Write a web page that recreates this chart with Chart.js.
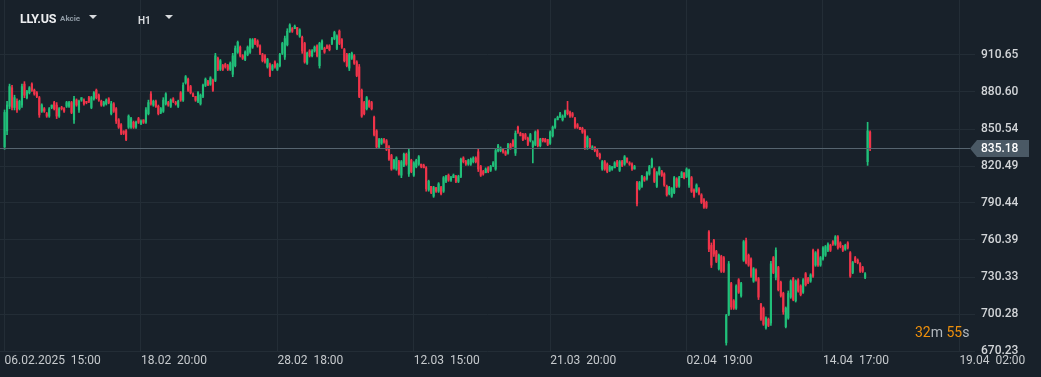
<!DOCTYPE html>
<html>
<head>
<meta charset="utf-8">
<script src="https://cdn.jsdelivr.net/npm/chart.js@4.4.1/dist/chart.umd.min.js"></script>
<style>
  html, body { margin: 0; padding: 0; background: #18212a; }
  #wrap { position: relative; width: 1041px; height: 377px; overflow: hidden; font-family: Roboto, sans-serif; }
  #wrap canvas { display: block; }
  .hdr { position: absolute; white-space: nowrap; line-height: 1; }
  .tri { position: absolute; width: 0; height: 0; border-left: 4px solid transparent; border-right: 4px solid transparent; border-top: 4px solid #d8dbde; }
</style>
</head>
<body>
<div id="wrap">
  <canvas id="chart"></canvas>
  <div class="hdr" style="left:20px;top:12.5px;font-size:12.5px;font-weight:700;color:#eceef0;letter-spacing:-0.3px">LLY.US</div>
  <div class="hdr" style="left:60px;top:15px;font-size:8px;font-weight:700;color:#8e99a3">Akcie</div>
  <div class="tri" style="left:89px;top:15px"></div>
  <div class="hdr" style="left:138px;top:15.5px;font-size:10px;font-weight:700;color:#d6d9dc">H1</div>
  <div class="tri" style="left:165px;top:15px"></div>
  <div class="hdr" style="left:915px;top:325px;font-size:14px;color:#b3b9be"><span style="color:#ee900c">32</span>m <span style="color:#ee900c">55</span>s</div>
</div>
<script>
// LLY.US, H1 candles (one per trading hour)
const opens = [
836,849,869,884,868,873,867,870,887,876,
880,887,882,880,876,865,867,863,861,868,
872,870,861,868,867,869,869,872,858,874,
866,874,874,873,876,868,875,882,878,873,
870,871,875,863,871,867,858,854,849,849,
852,852,856,852,859,855,858,856,863,879,
870,873,869,864,865,871,872,869,875,872,
869,880,874,888,891,885,879,877,873,871,
877,886,889,887,890,890,908,899,902,903,
902,899,895,902,913,917,910,907,911,913,
917,924,922,918,911,910,901,903,899,905,
899,902,912,909,919,930,932,932,933,926,
925,920,904,914,910,914,918,902,916,916,
918,918,920,924,916,930,923,915,911,900,
908,910,905,901,882,872,867,873,872,860,
849,836,839,842,841,836,829,819,818,824,
813,821,830,814,825,813,820,822,822,821,
819,801,804,796,803,800,803,800,808,813,
809,811,812,808,812,827,824,822,822,824,
827,832,820,816,815,819,817,821,818,833,
833,834,832,831,838,841,831,852,847,846,
846,843,841,836,838,849,837,843,842,842,
839,845,852,858,860,858,861,866,864,863,
859,854,852,851,849,836,842,834,836,833,
830,818,824,822,817,818,819,824,817,824,
822,827,823,822,818,807,802,804,811,810,
814,820,818,804,814,816,814,804,798,796,
799,810,804,811,815,812,805,811,801,800,
802,797,793,791,767,756,760,751,737,747,
746,677,700,725,711,705,728,715,744,760,
748,745,727,736,729,708,705,689,696,693,
746,730,738,726,717,690,697,714,729,711,
728,723,718,733,729,727,752,740,752,740,
745,748,752,756,759,757,763,758,755,753,
758,750,734,746,744,741,738,730,824,848
];
const highs = [
866,873,887,886,878,875,874,887,889,882,
885,888,883,881,877,871,868,864,868,870,
873,872,868,869,868,873,873,873,877,875,
874,876,875,873,877,877,881,883,879,874,
873,875,876,873,872,868,859,855,849,850,
862,860,857,857,860,858,858,868,874,881,
874,874,870,868,876,880,873,875,876,873,
874,881,888,894,892,886,880,877,881,879,
887,892,890,893,891,912,909,907,903,904,
903,905,912,918,922,918,911,914,918,924,
924,924,923,919,912,911,908,904,903,906,
904,912,921,926,932,936,933,935,933,932,
926,921,913,915,915,918,919,921,923,917,
919,919,925,930,927,931,924,916,912,912,
913,911,906,903,883,873,877,874,873,861,
850,843,843,843,842,837,830,826,828,825,
825,831,831,834,826,824,826,829,822,822,
820,809,804,804,803,807,804,812,813,814,
812,814,813,813,827,828,825,826,827,828,
828,834,821,817,819,820,821,824,834,838,
836,834,833,839,839,842,849,853,848,847,
847,844,847,841,849,850,843,843,843,842,
849,853,859,861,864,862,866,873,865,864,
860,855,852,852,850,845,843,837,836,834,
831,825,825,823,821,820,824,825,825,825,
829,827,824,823,821,808,808,813,812,816,
821,827,819,816,820,817,815,805,804,803,
812,811,812,816,815,819,818,812,802,806,
803,798,794,792,768,758,761,752,749,748,
747,700,743,726,712,724,729,726,760,762,
749,746,738,737,730,709,706,698,697,743,
747,754,739,727,718,706,719,728,730,728,
729,724,729,734,730,733,753,751,753,747,
755,756,758,757,760,764,764,759,756,757,
759,751,743,747,745,742,739,734,856,849
];
const lows = [
834,846,867,866,866,864,866,868,876,875,
879,881,878,876,860,864,864,860,860,867,
866,859,860,866,864,868,868,863,855,869,
864,873,870,871,872,867,874,875,873,869,
869,870,871,862,864,855,851,846,846,841,
851,851,851,851,855,854,855,855,862,870,
869,868,862,863,864,870,869,868,872,870,
868,873,873,887,881,879,877,873,872,870,
876,885,886,886,881,889,898,898,898,900,
898,898,893,901,912,909,907,906,910,912,
916,919,917,911,905,904,900,893,898,900,
898,901,911,907,918,929,929,932,927,925,
912,904,903,909,909,913,909,900,915,912,
916,914,919,923,915,919,916,905,901,898,
907,903,893,876,860,862,866,868,866,845,
835,835,838,839,833,825,817,818,817,813,
811,820,821,812,815,812,819,821,819,819,
800,800,798,795,799,799,797,799,807,808,
808,811,807,807,811,823,821,821,821,823,
823,816,812,813,815,815,816,820,817,832,
832,831,829,830,834,836,829,847,845,841,
842,837,840,823,837,836,836,840,840,837,
838,844,851,858,860,857,860,862,860,860,
851,851,850,847,834,834,835,834,832,828,
826,817,817,815,816,817,819,820,816,820,
821,823,821,817,818,788,801,803,808,809,
813,819,807,803,813,812,804,796,797,795,
798,803,803,811,810,811,803,799,795,799,
797,790,786,786,751,738,747,742,736,734,
734,675,699,704,704,704,717,714,743,741,
739,730,726,727,712,695,691,688,690,691,
733,728,719,714,700,689,696,713,711,710,
718,715,717,723,725,726,730,739,739,739,
744,747,751,751,756,756,753,754,751,752,
753,730,733,742,741,734,734,729,821,833
];
const closes = [
864,870,885,868,876,866,873,885,878,881,
884,882,879,877,862,870,865,861,867,870,
867,861,867,867,865,872,872,864,875,870,
873,876,871,872,873,876,880,876,874,870,
872,874,872,871,865,857,852,847,847,842,
861,859,852,856,856,857,856,866,872,871,
873,869,863,867,874,879,870,874,873,871,
873,874,886,893,882,880,877,874,880,878,
886,891,886,892,882,910,899,906,899,901,
899,904,910,916,921,910,908,913,917,923,
923,920,918,912,906,905,907,894,902,901,
903,911,920,924,930,935,930,934,928,931,
914,905,912,910,914,917,910,920,922,913,
916,915,924,929,926,920,917,906,902,911,
912,904,894,877,861,863,876,869,867,846,
836,842,842,840,834,826,818,825,827,814,
824,830,822,832,816,823,825,828,820,819,
802,808,799,803,800,806,798,811,812,809,
811,813,808,812,826,824,822,825,826,827,
824,818,813,814,818,816,820,823,833,837,
835,832,830,838,835,837,847,848,845,842,
843,838,846,840,848,837,842,841,840,838,
848,852,858,860,863,861,865,863,861,861,
852,852,850,848,835,844,836,836,833,829,
827,824,818,816,820,820,823,821,824,821,
828,824,822,818,820,790,807,812,809,815,
820,826,808,815,819,813,805,797,803,802,
811,804,811,815,811,818,817,800,796,805,
798,791,787,787,753,740,749,743,748,735,
735,699,741,706,705,723,718,725,759,742,
740,731,737,728,714,696,692,697,691,741,
734,752,720,715,702,705,717,727,712,727,
719,716,728,724,726,732,731,750,740,746,
754,755,757,752,757,763,754,755,752,756,
754,731,742,743,742,735,735,733,849,835.18
];

const currentPrice = 835.18;
const xTickIdx = [0, 55, 110, 165, 220, 275, 330, 385];
const xLabels = ['06.02.2025  15:00', '18.02  20:00', '28.02  18:00', '12.03  15:00',
                 '21.03  20:00', '02.04  19:00', '14.04  17:00', '19.04  02:00'];
const yTicks = [670.23, 700.28, 730.33, 760.39, 790.44, 820.49, 850.54, 880.60, 910.65];

const upColor = '#21c07a';
const downColor = '#f0344a';
const gridColor = '#232d36';

const candleIdx = opens.map((o, i) => i);
const candleColors = opens.map((o, i) => closes[i] >= o ? upColor : downColor);

const priceLine = {
  id: 'priceLine',
  afterDraw(chart) {
    const { ctx, chartArea, scales } = chart;
    const y = Math.round(scales.y.getPixelForValue(currentPrice)) + 0.5;
    ctx.save();
    ctx.strokeStyle = '#56646f';
    ctx.lineWidth = 1;
    ctx.beginPath();
    ctx.moveTo(chartArea.left, y);
    ctx.lineTo(chartArea.right - 5, y);
    ctx.stroke();
    const h = 17, bx = chartArea.right + 2, ex = chartArea.right + 54;
    ctx.fillStyle = '#4a5965';
    ctx.beginPath();
    ctx.moveTo(chartArea.right - 5, y);
    ctx.lineTo(bx, y - h / 2);
    ctx.lineTo(ex, y - h / 2);
    ctx.lineTo(ex, y + h / 2);
    ctx.lineTo(bx, y + h / 2);
    ctx.closePath();
    ctx.fill();
    ctx.fillStyle = '#ffffff';
    ctx.font = '500 12px Roboto';
    ctx.textBaseline = 'middle';
    ctx.fillText(currentPrice.toFixed(2), chartArea.right + 6, y + 0.5);
    ctx.restore();
  }
};

function noPad(s) {
  s.paddingTop = 0;
  s.paddingBottom = 0;
  s.paddingLeft = 0;
  s.paddingRight = 0;
}

const ctx = document.getElementById('chart');
myChart = new Chart(ctx, {
  type: 'bar',
  data: {
    datasets: [{
      label: 'wick',
      data: candleIdx.map(i => ({ x: i, y: [lows[i], highs[i]] })),
      backgroundColor: candleColors,
      barThickness: 1,
      grouped: false
    }, {
      label: 'body',
      data: candleIdx.map(i => ({ x: i, y: [opens[i], closes[i]] })),
      backgroundColor: candleColors,
      barThickness: 1.5,
      grouped: false
    }]
  },
  options: {
    responsive: true,
    maintainAspectRatio: false,
    animation: false,
    layout: { padding: 0 },
    plugins: { legend: { display: false }, tooltip: { enabled: false } },
    scales: {
      x: {
        type: 'linear',
        min: -1.85,
        max: 391.3,
        offset: false,
        afterBuildTicks: s => { s.ticks = xTickIdx.map(v => ({ value: v })); },
        afterFit: s => { s.height = 26; noPad(s); },
        grid: { color: gridColor, drawTicks: false, offset: false },
        border: { display: false },
        ticks: {
          autoSkip: false,
          maxRotation: 0,
          align: 'start',
          padding: 3,
          color: '#c6cacd',
          font: { family: 'Roboto', size: 12 },
          callback: (v, i) => xLabels[i]
        }
      },
      y: {
        type: 'linear',
        position: 'right',
        min: 670.23,
        max: 955.32,
        afterBuildTicks: s => { s.ticks = yTicks.map(v => ({ value: v })); },
        afterFit: s => { s.width = 66; noPad(s); },
        grid: { color: gridColor, drawTicks: false },
        border: { display: false },
        ticks: {
          padding: 6,
          color: '#d2d5d8',
          font: { family: 'Roboto', size: 12, weight: '500' },
          callback: v => v.toFixed(2)
        }
      }
    }
  },
  plugins: [priceLine]
});
</script>
</body>
</html>
